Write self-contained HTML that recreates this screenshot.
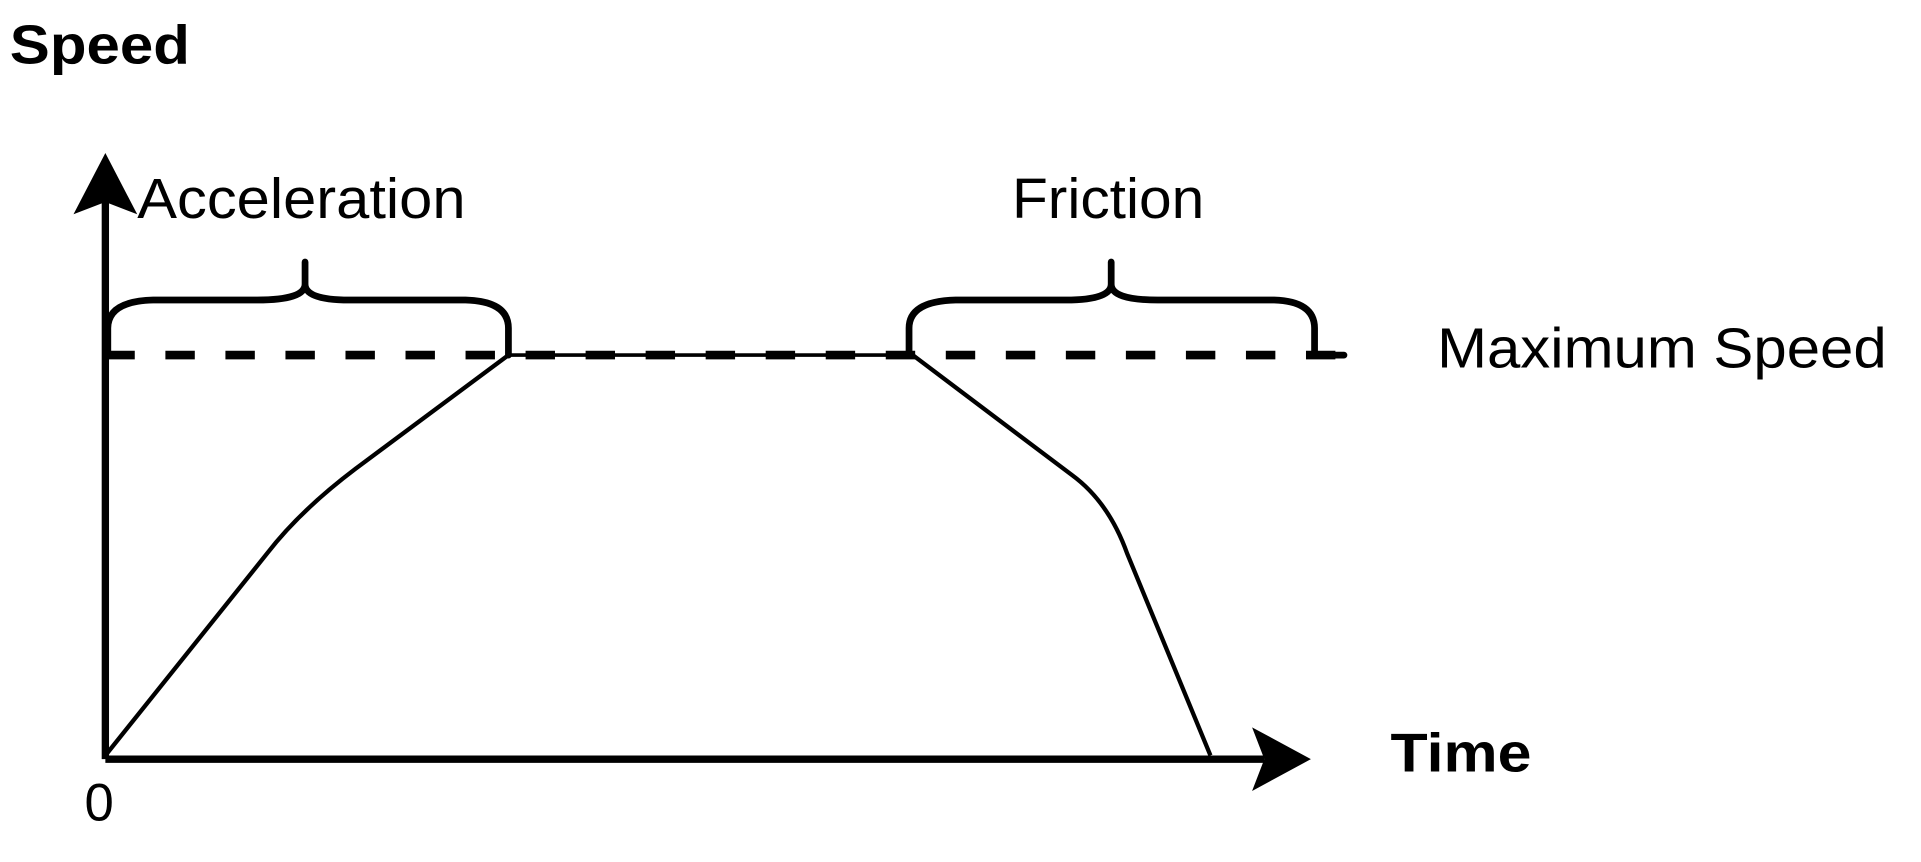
<!DOCTYPE html>
<html><head><style>html,body{margin:0;padding:0;background:#fff;width:1921px;height:862px;overflow:hidden}</style></head>
<body>
<svg width="1921" height="862" viewBox="0 0 1568 704" preserveAspectRatio="none" xmlns="http://www.w3.org/2000/svg">
<g fill="none" stroke="#000" stroke-linejoin="round">
<line x1="86" y1="620" x2="86" y2="165" stroke-width="6"/>
<line x1="86" y1="620" x2="1032" y2="620" stroke-width="6"/>
<line x1="86" y1="290" x2="1097" y2="290" stroke-width="7" stroke-dasharray="24 25"/>
<line x1="415" y1="290" x2="745" y2="290" stroke-width="3"/>
<path d="M86 617 L218 452 Q245 417 290 383 L415 290" stroke-width="3.5"/>
<path d="M745 290 L875 388 Q905 410 920 452 L988 617" stroke-width="3.5"/>
<path d="M88 290 L88 268 Q88 246 125 245 L210 245 Q249 245 249 232 L249 214 M249 232 Q249 245 285 245 L380 245 Q415 246 415 268 L415 290" stroke-width="5.5" stroke-linecap="round"/>
<path d="M742 290 L742 268 Q742 246 780 245 L870 245 Q907 245 907 232 L907 214 M907 232 Q907 245 945 245 L1040 245 Q1073 246 1073 268 L1073 290 L1097 290" stroke-width="5.5" stroke-linecap="round"/>
</g>
<path d="M86 125 L112 175 L86 165 L60 175 Z" fill="#000"/>
<path d="M1070 620 L1022 646 L1032 620 L1022 594 Z" fill="#000"/>
<g font-family="Liberation Sans, sans-serif" fill="#000" lengthAdjust="spacingAndGlyphs">
<text x="8" y="52" font-size="45" font-weight="bold" textLength="147" lengthAdjust="spacingAndGlyphs">Speed</text>
<text x="112" y="178" font-size="46" textLength="268" lengthAdjust="spacingAndGlyphs">Acceleration</text>
<text x="826" y="178" font-size="46" textLength="157" lengthAdjust="spacingAndGlyphs">Friction</text>
<text x="1173" y="300" font-size="46" textLength="367" lengthAdjust="spacingAndGlyphs">Maximum Speed</text>
<text x="1135" y="630" font-size="45" font-weight="bold" textLength="115" lengthAdjust="spacingAndGlyphs">Time</text>
<text x="69" y="670" font-size="43">0</text>
</g>
</svg>
</body></html>
